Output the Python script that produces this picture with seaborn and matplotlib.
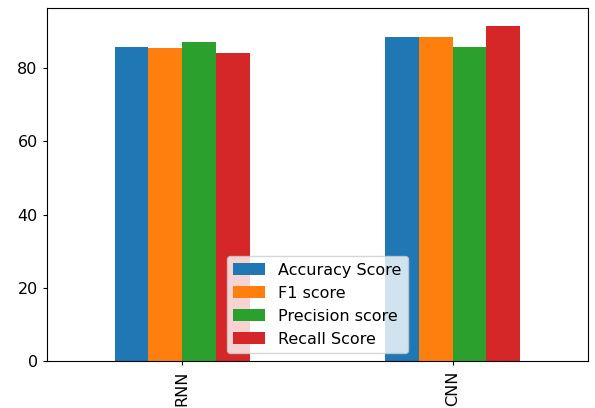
import pandas as pd
import matplotlib
matplotlib.use("Agg")
import matplotlib.pyplot as plt
import seaborn as sns

# Scores per model
models = ["RNN", "CNN"]
metrics = ["Accuracy Score", "F1 score", "Precision score", "Recall Score"]
accuracy = [85.9, 88.5]
f1 = [85.5, 88.5]
precision = [87.2, 85.8]
recall = [84.1, 91.6]

scores = pd.DataFrame({
    "model": models * 4,
    "metric": [m for m in metrics for _ in models],
    "score": accuracy + f1 + precision + recall,
})

plt.rcParams["font.size"] = 11.5
plt.rcParams["xtick.major.size"] = 3.2
plt.rcParams["ytick.major.size"] = 3.2

fig = plt.figure(figsize=(5.95, 4.08), dpi=100)
ax = fig.add_axes([0.079, 0.1152, 0.9087, 0.8645])

sns.barplot(
    data=scores, x="model", y="score", hue="metric",
    order=models, hue_order=metrics,
    palette=["#1f77b4", "#ff7f0e", "#2ca02c", "#d62728"],
    width=0.5, gap=0, saturation=1, linewidth=0,
    errorbar=None, ax=ax,
)

ax.set_xlim(-0.5, 1.5)
ax.set_ylim(0, 96.4)
ax.set_xlabel("")
ax.set_ylabel("")
ax.tick_params(axis="x", rotation=90)
ax.legend(loc="lower center", title=None)

fig.savefig("out.png", dpi=100)
